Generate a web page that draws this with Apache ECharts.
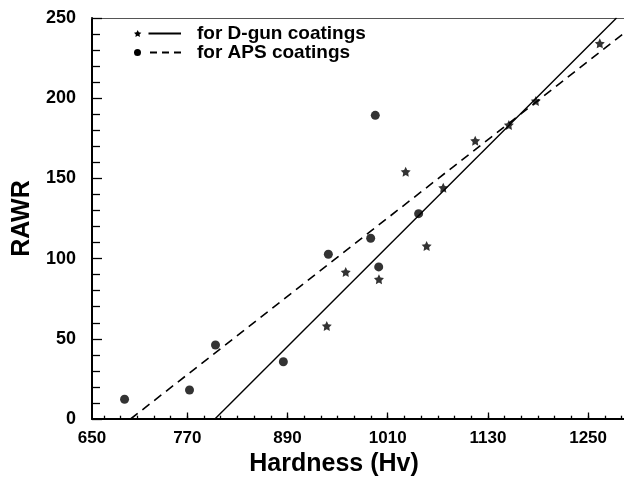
<!DOCTYPE html>
<html><head><meta charset="utf-8">
<script src="https://cdn.jsdelivr.net/npm/echarts@6/dist/echarts.min.js"></script>
<style>html,body{margin:0;padding:0;background:#fff}#c{width:624px;height:478px}</style>
</head><body><div id="c"></div>
<script>
// ---- data ----
const xTicks = [650, 770, 890, 1010, 1130, 1250];
const xTickLabels = ['650', '770', '890', '1010', '1130', '1250'];
const yTicks = [0, 50, 100, 150, 200, 250];
const dgunName = 'for D-gun coatings';
const apsName = 'for APS coatings';
const dgunPoints = [[937, 58.0], [959.7, 91.6], [999.5, 87.1], [1031.5, 154.2], [1056.6, 107.9], [1076.5, 144.2], [1114.8, 173.5], [1155.1, 183.3], [1187.4, 198.3], [1264, 234.2]];
const apsPoints = [[694.8, 12.3], [772.6, 18.1], [803.7, 46.1], [885, 35.7], [938.9, 102.7], [989.6, 112.7], [995.1, 189.3], [999.2, 94.8], [1047, 128.0]];
const dgunFit = [[803, 0], [1284, 250]];
const apsFit = [[702, 0], [1293, 240.5]];
const X_MIN = 655.8, X_MAX = 1293;
const Y_MIN = 0, Y_MAX = 250;

// ---- helpers ----
function starPts(cx, cy, R, r) {
  const pts = [];
  for (let i = 0; i < 10; i++) {
    const a = -Math.PI / 2 + i * Math.PI / 5;
    const rad = i % 2 === 0 ? R : r;
    pts.push([cx + rad * Math.cos(a), cy + rad * Math.sin(a)]);
  }
  return pts;
}
function ptsPath(pts) { return 'M' + pts.map(p => p[0].toFixed(3) + ' ' + p[1].toFixed(3)).join('L') + 'Z'; }
function rect(x0, y0, x1, y1) { return 'M' + x0 + ' ' + y0 + 'L' + x1 + ' ' + y0 + 'L' + x1 + ' ' + y1 + 'L' + x0 + ' ' + y1 + 'Z'; }

const starSymbol = 'path://' + ptsPath(starPts(0, 0, 10, 5));
const SR = 3.87;
const legendStar = 'path://' + ptsPath(starPts(3.68, SR, SR, SR * 0.5)) + rect(14.5, 2.5, 47, 4.5);
const legendCircle = 'path://M0 3.5A3.5 3.5 0 1 0 7 3.5A3.5 3.5 0 1 0 0 3.5Z' + rect(16, 2.5, 23, 4.5) + rect(28, 2.5, 35, 4.5) + rect(40, 2.5, 47, 4.5);

const minorX = [];
for (let v = xTicks[0] + 20; v < X_MAX; v += 20) minorX.push(v);

const FONT = '"Liberation Sans", Arial, sans-serif';
const chart = echarts.init(document.getElementById('c'), null, { renderer: 'canvas' });
chart.setOption({
  animation: false,
  backgroundColor: '#fff',
  grid: { left: 92, top: 18, right: 0, bottom: 59, containLabel: false, outerBoundsMode: 'none' },
  legend: {
    orient: 'vertical', left: 134, top: 24, padding: 0, itemGap: 0,
    itemWidth: 47, itemHeight: 7, symbolKeepAspect: false,
    itemStyle: { color: '#000', borderWidth: 0 },
    textStyle: { fontFamily: FONT, fontSize: 19, fontWeight: 'bold', color: '#000', lineHeight: 17.5, padding: [0, 0, 0, 11] },
    data: [{ name: dgunName, icon: legendStar }, { name: apsName, icon: legendCircle }],
    selectedMode: false
  },
  xAxis: [
    {
      type: 'value', position: 'bottom', min: X_MIN, max: X_MAX,
      axisLine: { onZero: false, lineStyle: { color: '#000', width: 2 } },
      axisTick: { inside: true, length: 6.5, customValues: xTicks.slice(1), lineStyle: { color: '#000', width: 1.3 } },
      axisLabel: {
        customValues: xTicks.map(v => Math.max(v, X_MIN)),
        formatter: function (v) {
          const i = xTicks.findIndex(t => Math.abs(Math.max(t, X_MIN) - v) < 1e-6);
          return i >= 0 ? xTickLabels[i] : '';
        },
        margin: 11, fontFamily: FONT, fontSize: 17, fontWeight: 'bold', color: '#000'
      },
      splitLine: { show: false },
      name: 'Hardness (Hv)', nameLocation: 'middle', nameGap: 31,
      nameTextStyle: { fontFamily: FONT, fontSize: 25, fontWeight: 'bold', color: '#000', padding: [0, 48, 0, 0] }
    },
    {
      type: 'value', position: 'bottom', min: X_MIN, max: X_MAX,
      axisLine: { show: false, onZero: false },
      axisTick: { inside: true, length: 3.3, customValues: minorX, lineStyle: { color: '#000', width: 1.3 } },
      axisLabel: { show: false }, splitLine: { show: false }
    },
    {
      type: 'value', position: 'top', min: X_MIN, max: X_MAX,
      axisLine: { onZero: false, lineStyle: { color: '#555', width: 1.2 } },
      axisTick: { show: false }, axisLabel: { show: false }, splitLine: { show: false }
    }
  ],
  yAxis: {
    type: 'value', min: Y_MIN, max: Y_MAX, interval: yTicks[1] - yTicks[0],
    axisLine: { onZero: false, lineStyle: { color: '#000', width: 2 } },
    axisTick: { inside: true, length: 10, lineStyle: { color: '#000', width: 1.3 } },
    minorTick: { show: true, splitNumber: 5, length: 8, lineStyle: { color: '#000', width: 1.3 } },
    axisLabel: { margin: 16, fontFamily: FONT, fontSize: 18, fontWeight: 'bold', color: '#000' },
    splitLine: { show: false }, minorSplitLine: { show: false },
    name: 'RAWR', nameLocation: 'middle', nameGap: 50,
    nameTextStyle: { fontFamily: FONT, fontSize: 25, fontWeight: 'bold', color: '#000' }
  },
  series: [
    { name: dgunName, type: 'line', data: dgunFit, symbol: 'none', color: '#000',
      lineStyle: { color: '#000', width: 1.4, type: 'solid' }, z: 2, silent: true },
    { name: apsName, type: 'line', data: apsFit, symbol: 'none', color: '#000',
      lineStyle: { color: '#000', width: 1.6, type: [9, 6] }, z: 2, silent: true },
    { name: 'D-gun data', type: 'scatter', data: dgunPoints, symbol: starSymbol, symbolSize: 10,
      itemStyle: { color: '#000' }, z: 3 },
    { name: 'APS data', type: 'scatter', data: apsPoints, symbol: 'circle', symbolSize: 9,
      itemStyle: { color: '#000' }, z: 3 }
  ]
});
</script>
</body></html>
